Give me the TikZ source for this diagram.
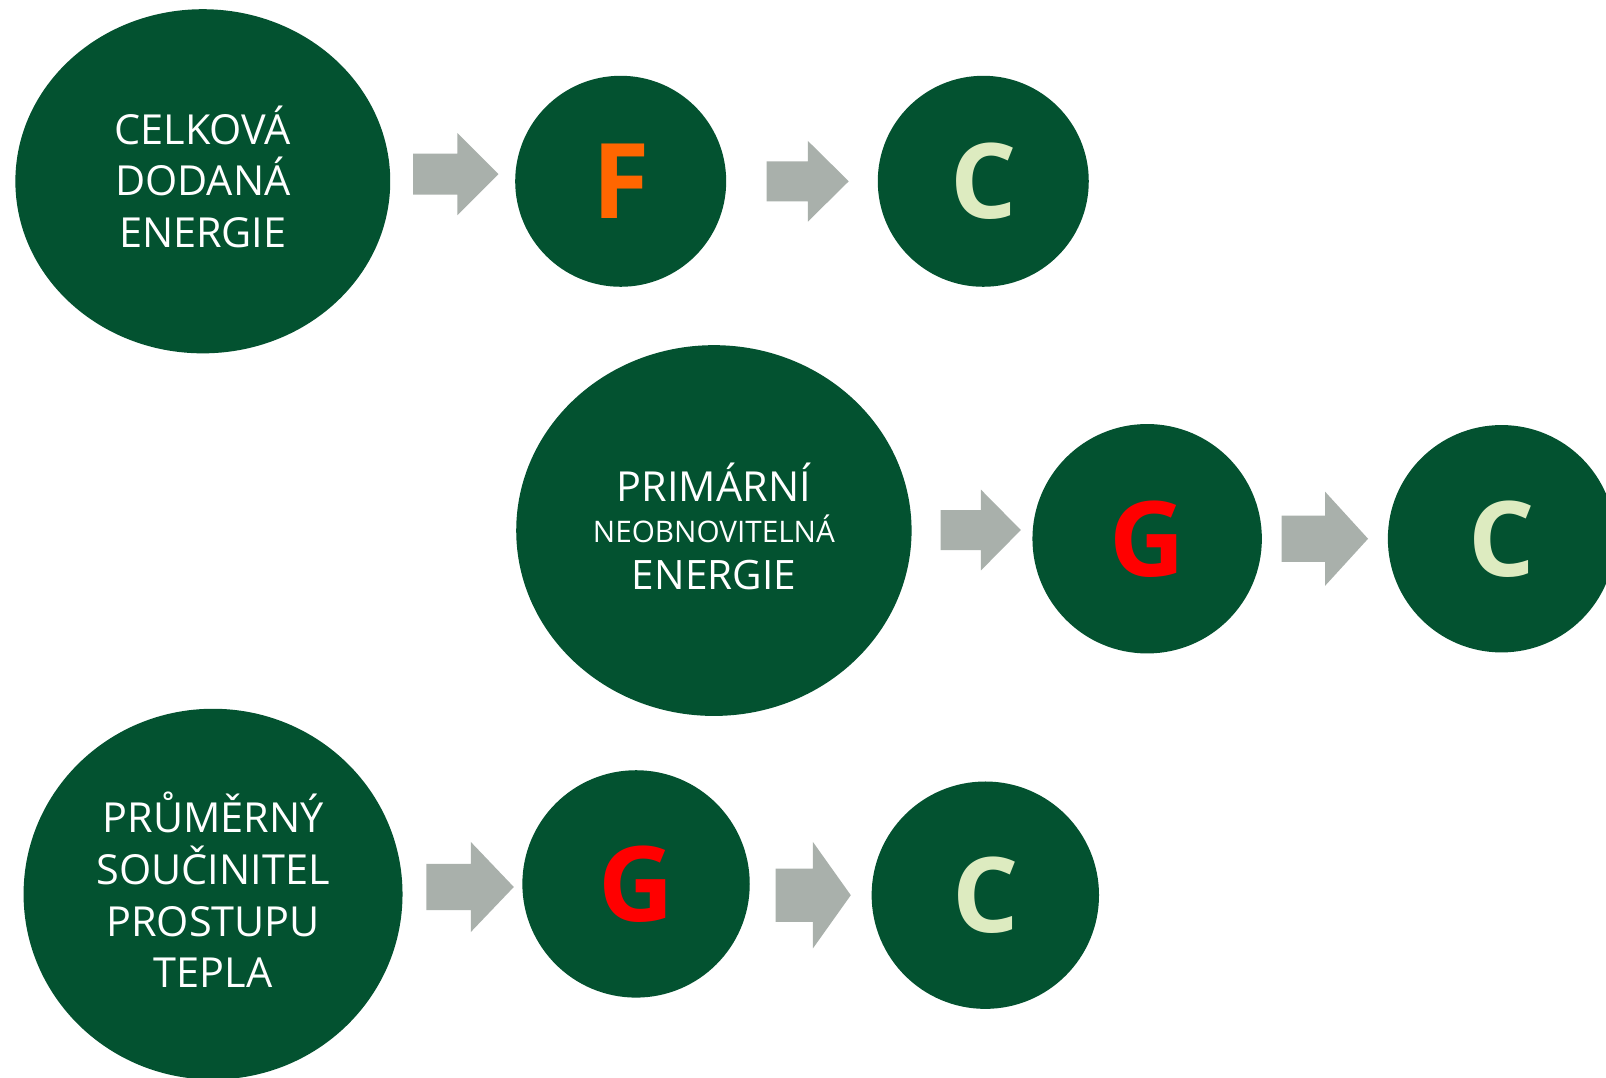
\documentclass[tikz,border=0pt]{standalone}
\usepackage{fontspec}
\setmainfont{Open Sans}
\usetikzlibrary{shapes.geometric,calc}

\definecolor{darkgreen}{RGB}{3,82,48}
\definecolor{arrowgray}{RGB}{169,176,171}
\definecolor{classF}{RGB}{255,102,0}
\definecolor{classG}{RGB}{255,0,0}
\definecolor{classC}{RGB}{221,235,192}

\tikzset{
  topic/.style={ellipse, fill=darkgreen, inner sep=0pt},
  topictext/.style={text=white, align=center, inner sep=0pt,
    font=\fontsize{23}{28.7}\selectfont},
  rating/.style={circle, fill=darkgreen, inner sep=0pt, minimum size=#1,
    font=\fontsize{58}{58}\selectfont\bfseries},
}

% block arrow: tail, tip, shaft half width, head half width, head length
\newcommand{\blockarrow}[5]{%
  \fill[arrowgray] let \p1=(#1), \p2=(#2) in
    (\x1,\y2+#3) -- (\x2-#5,\y2+#3) -- (\x2-#5,\y2+#4) -- (\x2,\y2)
    -- (\x2-#5,\y2-#4) -- (\x2-#5,\y2-#3) -- (\x1,\y2-#3) -- cycle;}

\begin{document}
\begin{tikzpicture}[scale=1]

\clip (0,0) rectangle (31.36,21.04);
\fill[white] (0,0) rectangle (31.36,21.04);

% Delivered energy
\node[topic, minimum width=7.32cm, minimum height=6.72cm] (dodana) at (3.96,17.50) {};
\node[topictext] (dodanatext) at ([yshift=0.088cm]dodana.center)
  {CELKOVÁ\\DODANÁ\\ENERGIE};
\node[rating=4.12cm, text=classF] (F) at (12.12,17.50) {F};
\node[rating=4.12cm, text=classC] (C1) at (19.20,17.50) {C};

% Primary energy
\node[topic, minimum width=7.72cm, minimum height=7.24cm] (primarni) at (13.94,10.68) {};
\node[topictext, font=\fontsize{23}{22.8}\selectfont] (primarnitext)
  at ([yshift=0.076cm]primarni.center)
  {PRIMÁRNÍ\\{\fontsize{16.5}{22.8}\selectfont NEOBNOVITELNÁ}\\[0.12cm]
   {\fontsize{22.5}{22.8}\selectfont ENERGIE}};
\node[rating=4.48cm, text=classG] (G1) at (22.40,10.52) {G};
\node[rating=4.44cm, text=classC] (C2) at (29.32,10.52) {C};

% Heat transfer coefficient
\node[topic, minimum width=7.40cm, minimum height=7.24cm] (prumer) at (4.16,3.58) {};
\node[topictext] (prumertext) at ([yshift=0.08cm]prumer.center)
  {PRŮMĚRNÝ\\SOUČINITEL\\PROSTUPU\\TEPLA};
\node[rating=4.44cm, text=classG] (G2) at (12.42,3.78) {G};
\node[rating=4.44cm, text=classC] (C3) at (19.24,3.56) {C};

% Arrows
\coordinate (a1s) at ($(dodana.east)+(0.44,0.14)$);
\coordinate (a1e) at ($(F.west)+(-0.32,0.14)$);
\blockarrow{a1s}{a1e}{0.40cm}{0.80cm}{0.80cm}

\coordinate (a2s) at ($(F.east)+(0.78,0)$);
\coordinate (a2e) at ($(C1.west)+(-0.56,0)$);
\blockarrow{a2s}{a2e}{0.39cm}{0.79cm}{0.80cm}

\coordinate (a3s) at ($(primarni.east)+(0.56,0)$);
\coordinate (a3e) at ($(G1.west)+(-0.22,0.17)$);
\blockarrow{a3s}{a3e}{0.39cm}{0.79cm}{0.78cm}

\coordinate (a4s) at ($(G1.east)+(0.38,0)$);
\coordinate (a4e) at ($(C2.west)+(-0.38,0)$);
\blockarrow{a4s}{a4e}{0.45cm}{0.92cm}{0.84cm}

\coordinate (a5s) at ($(prumer.east)+(0.46,0.15)$);
\coordinate (a5e) at ($(G2.west)+(-0.16,-0.06)$);
\blockarrow{a5s}{a5e}{0.45cm}{0.88cm}{0.84cm}

\coordinate (a6s) at ($(G2.east)+(0.50,-0.22)$);
\coordinate (a6e) at ($(C3.west)+(-0.40,0)$);
\blockarrow{a6s}{a6e}{0.52cm}{1.04cm}{0.74cm}

\end{tikzpicture}
\end{document}
